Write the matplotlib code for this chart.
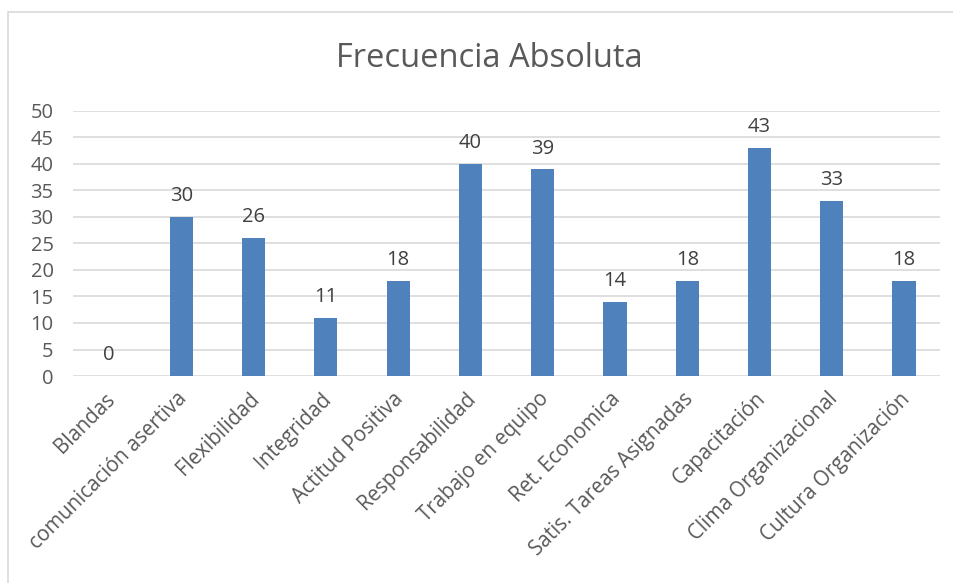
import matplotlib.pyplot as plt
from matplotlib.patches import Rectangle
from matplotlib.transforms import ScaledTranslation

categories = ['Blandas', 'comunicación asertiva', 'Flexibilidad', 'Integridad',
              'Actitud Positiva', 'Responsabilidad', 'Trabajo en equipo',
              'Ret. Economica', 'Satis. Tareas Asignadas', 'Capacitación',
              'Clima Organizacional', 'Cultura Organización']
values = [0, 30, 26, 11, 18, 40, 39, 14, 18, 43, 33, 18]
yticks = [0, 5, 10, 15, 20, 25, 30, 35, 40, 45, 50]

plt.rcParams['font.family'] = ['Open Sans', 'DejaVu Sans']
text_color = '#595959'

fig = plt.figure(figsize=(9.54, 5.83), dpi=100)
ax = fig.add_axes([0.0765, 0.355, 0.909, 0.455])

x = range(len(categories))
ax.bar(x, values, width=0.32, color='#4F81BD', zorder=3)
for xi, v in zip(x, values):
    ax.text(xi, v + 2.0, str(v), ha='center', va='bottom', fontsize=14.5, color='#404040')

ax.set_xlim(-0.5, len(categories) - 0.5)
ax.set_ylim(0, 50)
ax.set_yticks(yticks)
ax.set_xticks(list(x))
ax.set_xticklabels(categories, rotation=45, ha='right', rotation_mode='anchor')
ax.tick_params(axis='x', length=0, pad=9, labelsize=14.8, labelcolor=text_color)
ax.tick_params(axis='y', length=0, pad=14, labelsize=14.5, labelcolor=text_color)
# nudge the rotated labels a little to the left
shift = ScaledTranslation(-5 / 100, 0, fig.dpi_scale_trans)
for lbl in ax.get_xticklabels():
    lbl.set_transform(lbl.get_transform() + shift)
ax.grid(axis='y', color='#D9D9D9', linewidth=1.2, zorder=0)
for s in ax.spines.values():
    s.set_visible(False)

fig.text(0.513, 0.899, 'Frecuencia Absoluta', ha='center', va='center',
         fontsize=23.5, color=text_color)

# light border around the chart
fig.patches.append(Rectangle((8 / 954, -0.01), 1.0, 1 - 12 / 583 + 0.01,
                             transform=fig.transFigure, fill=False,
                             edgecolor='#D9D9D9', linewidth=1.2))

fig.savefig('out.png', dpi=100)
